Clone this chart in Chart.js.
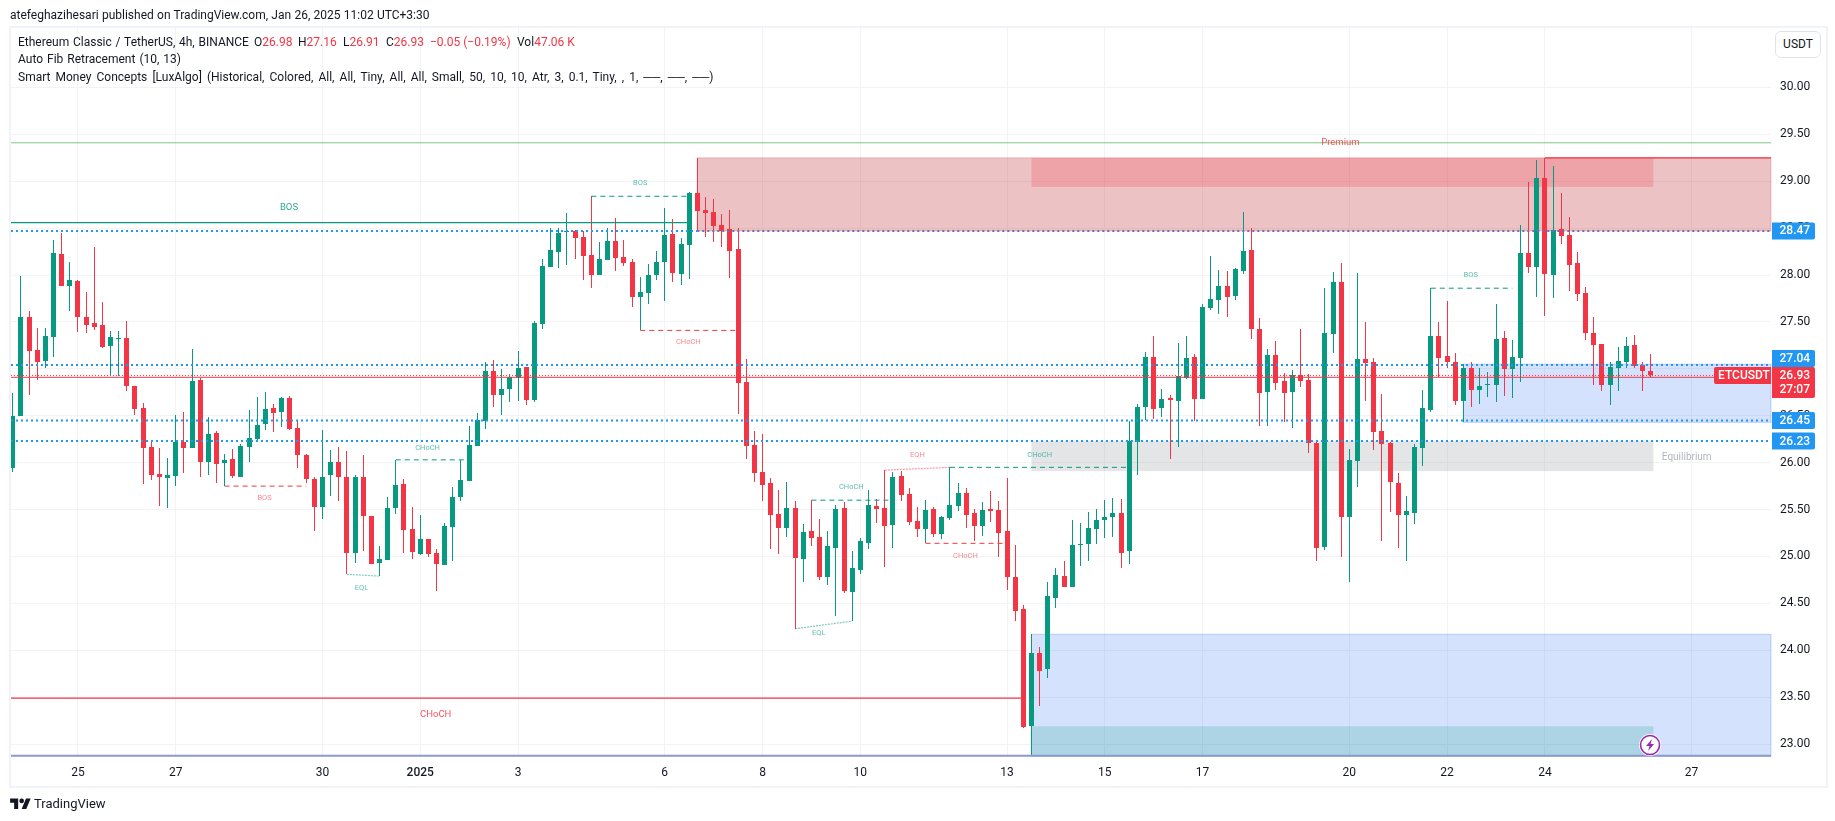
<!DOCTYPE html>
<html>
<head>
<meta charset="utf-8">
<title>ETCUSDT 4h</title>
<script src="https://cdn.jsdelivr.net/npm/chart.js@4"></script>
<style>
  html, body { margin: 0; padding: 0; background: #fff; width: 1835px; height: 821px; overflow: hidden; }
  body { font-family: Roboto, sans-serif; color: #131722; }
  #frame { position: absolute; left: 9px; top: 26px; width: 1815px; height: 758px; border: 2px solid #f0f3fa; }
  #chart { position: absolute; left: 0; top: 0; }
  .txt { position: absolute; white-space: nowrap; font-size: 12px; line-height: 16px; }
  .red { color: #f23645; }
  #usdt { position: absolute; left: 1775px; top: 31px; width: 44px; height: 25px; border: 1px solid #e0e3eb; border-radius: 6px;
          font-size: 12px; line-height: 25px; text-align: center; background: #fff; }
  #logo { position: absolute; left: 10px; top: 798px; }
</style>
</head>
<body>
<div id="frame"></div>
<canvas id="chart" width="1835" height="821"></canvas>
<div class="txt" style="left:10px;top:7px;word-spacing:.3px">atefeghazihesari published on TradingView.com, Jan 26, 2025 11:02 UTC+3:30</div>
<div class="txt" style="left:18px;top:34px;word-spacing:.8px">Ethereum Classic / TetherUS, 4h, BINANCE</div>
<div class="txt" style="left:254px;top:34px">O<span class="red">26.98</span></div>
<div class="txt" style="left:298px;top:34px">H<span class="red">27.16</span></div>
<div class="txt" style="left:343px;top:34px">L<span class="red">26.91</span></div>
<div class="txt" style="left:386px;top:34px">C<span class="red">26.93</span></div>
<div class="txt red" style="left:430px;top:34px">−0.05 (−0.19%)</div>
<div class="txt" style="left:517px;top:34px">Vol<span class="red">47.06 K</span></div>
<div class="txt" style="left:18px;top:51px;word-spacing:1px">Auto Fib Retracement (10, 13)</div>
<div class="txt" style="left:18px;top:69px;word-spacing:2.1px">Smart Money Concepts [LuxAlgo] (Historical, Colored, All, All, Tiny, All, All, Small, 50, 10, 10, Atr, 3, 0.1, Tiny, , 1, ──, ──, ──)</div>
<div id="usdt">USDT</div>
<svg id="logo" width="21" height="11" viewBox="0 0 36 19"><path fill="#131722" d="M14 19H7V8H0V1h14v18zM28 19h-8l7.5-18h8L28 19z"/><circle fill="#131722" cx="20" cy="5" r="4"/></svg>
<div class="txt" style="left:34px;top:795px;font-size:13px;line-height:18px">TradingView</div>

<script>
// candles, 4h bars
var opens = [
  25.94,26.50,27.55,27.20,27.08,27.34,28.22,27.88,27.94,27.55,
  27.49,27.47,27.24,27.32,27.33,26.82,26.58,26.17,25.88,25.84,
  25.86,26.22,26.16,26.88,26.01,26.32,26.00,26.04,25.85,26.17,
  26.25,26.41,26.58,26.54,26.69,26.37,26.08,25.83,25.53,25.87,
  26.01,25.85,25.04,25.85,25.43,24.93,24.96,25.52,25.77,25.29,
  25.03,25.19,25.04,24.91,25.31,25.63,25.80,26.18,26.44,26.98,
  26.72,26.78,26.90,27.02,26.67,27.48,28.09,28.25,28.46,28.47,
  28.41,28.21,28.00,28.16,28.36,28.19,28.14,27.77,27.81,28.00,
  28.14,28.44,28.01,28.32,28.88,28.69,28.67,28.53,28.49,28.28,
  26.86,26.19,25.90,25.78,25.45,25.30,25.52,24.97,25.27,25.21,
  24.78,25.09,25.52,24.62,24.86,25.14,25.54,25.52,25.34,25.86,
  25.67,25.38,25.29,25.51,25.24,25.41,25.54,25.68,25.46,25.33,
  25.51,25.50,25.27,24.78,24.44,23.19,23.97,23.80,24.56,24.79,
  24.67,25.12,25.13,25.29,25.39,25.42,25.46,25.06,26.22,26.59,
  27.13,26.58,26.69,26.66,26.90,27.13,26.68,27.65,27.73,27.88,
  27.78,28.04,28.27,27.43,26.75,27.15,26.87,26.75,26.93,26.88,
  26.21,25.10,27.37,27.93,25.42,26.02,27.11,27.07,26.34,26.21,
  25.78,25.44,25.46,26.16,26.56,27.35,27.14,27.07,26.66,27.01,
  26.77,26.83,26.83,27.33,27.00,27.12,28.23,28.09,29.03,28.00,
  28.49,28.43,28.13,27.81,27.38,27.26,26.83,27.01,27.07,27.25,
  27.04,26.98
];
var highs = [
  26.74,27.99,27.62,27.44,27.44,28.37,28.45,28.14,27.95,27.82,
  28.30,27.71,27.40,27.40,27.51,26.82,26.64,26.24,26.16,26.05,
  26.51,26.54,27.21,26.90,26.49,26.34,26.09,26.15,26.20,26.56,
  26.70,26.75,26.63,26.70,26.71,26.44,26.09,25.85,26.35,26.13,
  26.17,26.12,25.87,26.08,25.43,25.11,25.63,26.03,25.83,25.53,
  25.44,25.19,25.08,25.36,25.74,26.03,26.39,26.53,27.07,27.09,
  27.00,26.95,27.19,27.02,27.51,28.17,28.50,28.50,28.66,28.48,
  28.47,28.84,28.35,28.50,28.61,28.37,28.17,27.98,28.12,28.26,
  28.71,28.60,28.40,28.89,29.25,28.83,28.81,28.65,28.69,28.50,
  27.11,26.34,26.31,25.84,25.71,25.79,25.59,25.35,25.60,25.40,
  25.27,25.55,25.58,25.06,25.20,25.71,25.61,25.92,25.90,25.91,
  25.73,25.53,25.60,25.53,25.43,25.95,25.78,25.73,25.51,25.58,
  25.70,25.59,25.84,25.12,24.48,24.17,24.04,24.73,24.88,24.95,
  25.39,25.36,25.47,25.51,25.60,25.62,25.61,26.44,26.63,27.18,
  27.35,26.79,26.72,27.28,27.35,27.16,27.69,28.20,28.05,28.04,
  28.07,28.67,28.50,27.54,27.21,27.30,26.96,26.99,27.42,26.95,
  26.22,27.86,28.03,28.13,26.15,28.02,27.50,27.12,26.73,26.22,
  25.89,25.64,26.20,26.77,27.86,27.50,27.72,27.17,27.05,27.07,
  27.01,26.97,27.69,27.40,27.31,28.53,28.99,29.23,29.25,29.16,
  28.88,28.62,28.25,27.87,27.55,27.26,27.07,27.23,27.34,27.36,
  27.07,27.16
];
var lows = [
  25.90,26.50,26.72,26.88,27.01,27.13,27.88,27.62,27.39,27.38,
  27.41,27.22,26.92,26.92,26.76,26.51,25.77,25.81,25.54,25.52,
  25.75,25.89,26.16,25.85,25.87,25.78,25.75,25.84,25.85,26.01,
  26.23,26.35,26.33,26.38,26.35,25.94,25.78,25.27,25.40,25.64,
  25.59,24.81,24.93,25.06,24.92,24.79,24.96,25.45,25.04,24.97,
  25.02,24.99,24.63,24.91,24.95,25.59,25.80,26.18,26.36,26.59,
  26.51,26.65,26.66,26.62,26.65,27.43,28.09,28.07,28.11,28.17,
  27.95,27.86,28.00,28.16,28.04,28.10,27.66,27.41,27.69,27.95,
  27.72,27.93,27.89,27.96,28.48,28.41,28.35,28.30,27.97,26.52,
  26.04,25.79,25.59,25.08,25.03,25.21,24.23,24.73,25.11,24.75,
  24.70,24.36,24.61,24.31,24.81,25.08,25.36,24.89,25.09,25.59,
  25.34,25.21,25.14,25.21,25.19,25.39,25.48,25.30,25.16,25.22,
  25.37,24.99,24.64,24.31,23.17,22.87,23.41,23.70,24.45,24.67,
  24.67,24.90,24.95,25.13,25.20,25.21,24.88,24.92,25.87,26.45,
  26.47,26.49,26.04,26.17,26.89,26.44,26.68,27.63,27.58,27.55,
  27.73,28.01,27.32,26.39,26.39,26.77,26.43,26.37,26.81,26.10,
  24.95,25.07,27.17,24.99,24.73,25.74,26.66,26.13,25.16,25.47,
  25.09,24.95,25.35,25.96,26.54,26.91,27.01,26.62,26.43,26.59,
  26.63,26.70,26.65,26.71,26.69,26.86,28.02,27.77,27.56,27.76,
  28.33,27.83,27.72,27.31,26.83,26.76,26.62,26.76,27.01,27.01,
  26.76,26.91
];
var closes = [
  26.50,27.55,27.19,27.07,27.35,28.24,27.88,27.95,27.55,27.47,
  27.45,27.23,27.34,27.33,26.82,26.57,26.16,25.87,25.85,25.87,
  26.22,26.16,26.87,26.01,26.31,25.99,26.03,25.86,26.18,26.26,
  26.40,26.57,26.53,26.69,26.36,26.08,25.83,25.53,25.85,26.01,
  25.85,25.04,25.85,25.43,24.92,24.97,25.52,25.76,25.28,25.05,
  25.19,25.03,24.92,25.32,25.63,25.81,26.19,26.46,26.98,26.72,
  26.78,26.91,27.01,26.67,27.49,28.10,28.27,28.45,28.47,28.40,
  28.20,28.00,28.17,28.36,28.18,28.13,27.77,27.82,28.00,28.14,
  28.43,28.02,28.33,28.87,28.68,28.66,28.52,28.47,28.26,26.85,
  26.18,25.89,25.76,25.44,25.30,25.52,24.98,25.26,25.20,24.78,
  25.11,25.51,24.63,24.88,25.17,25.55,25.51,25.33,25.85,25.66,
  25.37,25.29,25.50,25.24,25.42,25.55,25.68,25.44,25.32,25.50,
  25.48,25.25,24.78,24.42,23.18,23.97,23.78,24.58,24.80,24.67,
  25.12,25.13,25.30,25.39,25.42,25.46,25.04,26.23,26.59,27.13,
  26.57,26.68,26.67,26.92,27.12,26.68,27.66,27.74,27.88,27.77,
  28.06,28.26,27.42,26.74,27.15,26.85,26.74,26.93,26.87,26.21,
  25.09,27.38,27.93,25.42,26.03,27.10,27.06,26.33,26.20,25.79,
  25.44,25.48,26.17,26.58,27.35,27.12,27.07,26.66,27.01,26.77,
  26.82,26.84,27.32,27.00,27.13,28.24,28.09,29.03,28.01,28.48,
  28.42,28.11,27.80,27.38,27.25,26.83,27.02,27.08,27.24,27.03,
  26.98,26.93
];

// axes
var dayTicks = [8, 20, 38, 50, 62, 80, 92, 104, 122, 134, 146, 164, 176, 188, 206];
var dayLabels = ["25", "27", "30", "2025", "3", "6", "8", "10", "13", "15", "17", "20", "22", "24", "27"];
var priceTicks = [23, 23.5, 24, 24.5, 25, 25.5, 26, 26.5, 27, 27.5, 28, 28.5, 29, 29.5, 30];
var slotMin = -0.21, slotMax = 215.74, priceMin = 22.862, priceMax = 30.634;

// zones: from bar, to bar, low price, high price
var premiumZone = [84, slotMax, 28.47, 29.25];
var premiumCore = [125, 201.3, 28.94, 29.25];
var discountZone = [125, slotMax, 22.87, 24.17];
var discountCore = [125, 201.3, 22.87, 23.19];
var demandZone = [178, slotMax, 26.43, 27.05];
var equilibriumZone = [125, 201.3, 25.91, 26.23];

// levels and structure lines: style, from bar, price, to bar, price
var structure = [
  ["premium", slotMin, 29.41, slotMax, 29.41],
  ["bosLine", slotMin, 28.56, 83, 28.56],
  ["chochLine", slotMin, 23.49, 124, 23.49],
  ["chochLine", 188, 29.25, slotMax, 29.25],
  ["bottom", slotMin, 22.875, slotMax, 22.875],
  ["level", slotMin, 28.47, 84, 28.47],
  ["levelZone", 84, 28.47, slotMax, 28.47],
  ["level", slotMin, 27.04, slotMax, 27.04],
  ["level", slotMin, 26.45, slotMax, 26.45],
  ["level", slotMin, 26.23, slotMax, 26.23],
  ["lastSolid", slotMin, 26.91, slotMax, 26.91],
  ["lastDots", slotMin, 26.93, slotMax, 26.93],
  ["dashGreen", 71, 28.84, 83, 28.84],
  ["dashRed", 77, 27.41, 89, 27.41],
  ["dashRed", 26, 25.75, 36, 25.75],
  ["dashGreen", 47, 26.03, 56, 26.03],
  ["dashGreen", 98, 25.60, 108, 25.60],
  ["dashRed", 112, 25.14, 122, 25.14],
  ["dashGreen", 115, 25.95, 137, 25.95],
  ["dashGreen", 174, 27.86, 184, 27.86],
  ["dotGreen", 41, 24.81, 45, 24.79],
  ["dotGreen", 96, 24.23, 103, 24.31],
  ["dotRed", 107, 25.92, 115, 25.95]
];

// little texts on the chart: text, bar, price, style
var notes = [
  ["Premium", 162.9, 29.41, "redBig"],
  ["BOS", 33.9, 28.72, "greenBig"],
  ["CHoCH", 51.9, 23.31, "redBig"],
  ["BOS", 30.9, 25.62, "redSmall"],
  ["CHoCH", 50.9, 26.16, "greenSmall"],
  ["EQL", 42.8, 24.66, "greenSmall"],
  ["BOS", 77, 28.98, "greenSmall"],
  ["CHoCH", 82.9, 27.28, "redSmall"],
  ["CHoCH", 102.9, 25.74, "greenSmall"],
  ["EQL", 98.9, 24.18, "greenSmall"],
  ["EQH", 111, 26.08, "redSmall"],
  ["CHoCH", 116.9, 25.00, "redSmall"],
  ["CHoCH", 126, 26.08, "greenSmall"],
  ["BOS", 178.9, 28.00, "greenSmall"],
  ["Equilibrium", 205.4, 26.06, "grey"]
];

// price scale tags
var levelTags = [28.47, 27.04, 26.45, 26.23];
var lastPrice = 26.93;
var symbol = "ETCUSDT";
var countdown = "27:07";
var flashBar = 200.9, flashPrice = 22.99;

var GREEN = "#089981", RED = "#f23645", BLUE = "#2196f3";

var lineStyles = {
  premium: { color: "#81c784", width: 1 },
  bosLine: { color: GREEN, width: 1.3 },
  chochLine: { color: RED, width: 1.3 },
  bottom: { color: "#8b9bc9", width: 2 },
  level: { color: BLUE, width: 2, dash: [2, 3] },
  levelZone: { color: "#6c72ad", width: 2, dash: [2, 3] },
  lastSolid: { color: RED, width: 1 },
  lastDots: { color: RED, width: 1, dash: [1, 2] },
  dashGreen: { color: GREEN, width: 1, dash: [5, 4] },
  dashRed: { color: RED, width: 1, dash: [5, 4] },
  dotGreen: { color: "rgba(8,153,129,.5)", width: 1.2, dash: [2, 1] },
  dotRed: { color: "rgba(242,54,69,.5)", width: 1.2, dash: [2, 1] }
};
var noteStyles = {
  redBig: { color: "rgba(242,54,69,.85)", font: "9.5px Roboto" },
  greenBig: { color: "rgba(8,153,129,.85)", font: "9.5px Roboto" },
  redSmall: { color: "rgba(242,54,69,.6)", font: "7.5px Roboto" },
  greenSmall: { color: "rgba(8,153,129,.65)", font: "7.5px Roboto" },
  grey: { color: "#b2b5be", font: "10px Roboto" }
};
// fill, optional edge
var zoneLayers = [
  [premiumZone, "rgba(196,52,64,.3)", "rgba(196,52,64,.25)"],
  [premiumCore, "rgba(242,54,69,.22)"],
  [discountZone, "rgba(33,100,243,.19)", "rgba(33,100,243,.25)"],
  [discountCore, "rgba(8,153,129,.2)"],
  [demandZone, "rgba(33,100,243,.19)", "rgba(33,100,243,.25)"],
  [equilibriumZone, "rgba(120,123,134,.2)"]
];

var lineSets = structure.map(function(s) {
  var st = lineStyles[s[0]];
  return {
    type: "line",
    data: [{ x: s[1], y: s[2] }, { x: s[3], y: s[4] }],
    borderColor: st.color,
    borderWidth: st.width,
    borderDash: st.dash || [],
    pointRadius: 0,
    fill: false,
    tension: 0
  };
});

var wickData = opens.map(function(o, i) { return { x: i, y: [lows[i], highs[i]] }; });
var bodyData = opens.map(function(o, i) { return { x: i, y: [o, closes[i]] }; });
var barColors = opens.map(function(o, i) { return closes[i] >= o ? GREEN : RED; });

// zones go under the candles, candles get snapped to whole pixels like the original
var overlay = {
  id: "overlay",
  beforeDatasetsDraw: function(chart) {
    var x = chart.scales.x, y = chart.scales.y, ctx = chart.ctx;
    ctx.save();
    zoneLayers.forEach(function(z) {
      var b = z[0];
      var left = x.getPixelForValue(b[0]), right = x.getPixelForValue(b[1]);
      var top = y.getPixelForValue(b[3]), bottom = y.getPixelForValue(b[2]);
      ctx.fillStyle = z[1];
      ctx.fillRect(left, top, right - left, bottom - top);
      if (z[2]) {
        ctx.strokeStyle = z[2];
        ctx.lineWidth = 1;
        ctx.strokeRect(left, top, right - left, bottom - top);
      }
    });
    ctx.restore();

    chart.getSortedVisibleDatasetMetas().forEach(function(meta) {
      if (meta.type !== "bar") return;
      meta.data.forEach(function(el, i) {
        // two bar sets would sit side by side, put them on the same centre
        el.x = Math.round(x.getPixelForValue(i) - 0.5) + 0.5;
        el.y = Math.round(el.y);
        el.base = Math.round(el.base);
        if (el.y === el.base) el.base = el.y + 1;
      });
    });
  },
  afterDatasetsDraw: function(chart) {
    var x = chart.scales.x, y = chart.scales.y, ctx = chart.ctx;
    ctx.save();
    ctx.textAlign = "center";
    ctx.textBaseline = "middle";
    notes.forEach(function(n) {
      var st = noteStyles[n[3]];
      ctx.font = st.font;
      ctx.fillStyle = st.color;
      ctx.fillText(n[0], x.getPixelForValue(n[1]), y.getPixelForValue(n[2]));
    });

    // flash marker
    var fx = x.getPixelForValue(flashBar), fy = y.getPixelForValue(flashPrice);
    ctx.beginPath();
    ctx.arc(fx, fy, 11, 0, Math.PI * 2);
    ctx.fillStyle = "#fff";
    ctx.fill();
    ctx.beginPath();
    ctx.arc(fx, fy, 9.5, 0, Math.PI * 2);
    ctx.strokeStyle = "#9c27b0";
    ctx.lineWidth = 1.6;
    ctx.stroke();
    ctx.beginPath();
    ctx.moveTo(fx + 2, fy - 6);
    ctx.lineTo(fx - 4, fy + 1);
    ctx.lineTo(fx - 0.5, fy + 1);
    ctx.lineTo(fx - 2, fy + 6);
    ctx.lineTo(fx + 4, fy - 1);
    ctx.lineTo(fx + 0.5, fy - 1);
    ctx.closePath();
    ctx.fillStyle = "#9c27b0";
    ctx.fill();
    ctx.restore();
  },
  afterDraw: function(chart) {
    var y = chart.scales.y, ctx = chart.ctx, edge = chart.chartArea.right + 1;
    var ly = y.getPixelForValue(lastPrice);
    ctx.save();
    ctx.font = "500 12px Roboto";
    ctx.textAlign = "left";
    ctx.textBaseline = "middle";
    levelTags.forEach(function(p) {
      var py = y.getPixelForValue(p);
      // a tag just above the last price gets pushed up, same as tradingview does
      if (py < ly && py > ly - 17) py = ly - 17;
      ctx.fillStyle = BLUE;
      ctx.beginPath();
      ctx.roundRect(edge, py - 8.5, 43, 17, [0, 2, 2, 0]);
      ctx.fill();
      ctx.fillStyle = "#fff";
      ctx.fillText(p.toFixed(2), edge + 7.5, py + 0.5);
    });
    ctx.fillStyle = RED;
    ctx.beginPath();
    ctx.roundRect(edge, ly - 8.5, 43, 31, [0, 2, 2, 0]);
    ctx.fill();
    ctx.beginPath();
    ctx.roundRect(edge - 58, ly - 8.5, 57, 17, [2, 0, 0, 2]);
    ctx.fill();
    ctx.fillStyle = "#fff";
    ctx.fillText(lastPrice.toFixed(2), edge + 7.5, ly + 0.5);
    ctx.fillText(countdown, edge + 7.5, ly + 14.5);
    ctx.fillText(symbol, edge - 54, ly + 0.5);
    ctx.restore();
  }
};

new Chart(document.getElementById("chart"), {
  type: "bar",
  plugins: [overlay],
  data: {
    datasets: lineSets.concat([
      { data: bodyData, backgroundColor: barColors, barThickness: 5, borderWidth: 0, inflateAmount: 0 },
      { data: wickData, backgroundColor: barColors, barThickness: 1, borderWidth: 0, inflateAmount: 0 }
    ])
  },
  options: {
    responsive: false,
    animation: false,
    layout: { padding: { left: 11, top: 28, right: 0, bottom: 0 } },
    plugins: { legend: { display: false }, tooltip: { enabled: false }, title: { display: false } },
    scales: {
      x: {
        type: "linear",
        offset: false,
        min: slotMin,
        max: slotMax,
        grid: { color: "#f2f3f5", offset: false, drawTicks: false },
        border: { display: false },
        afterBuildTicks: function(axis) { axis.ticks = dayTicks.map(function(v) { return { value: v }; }); },
        afterFit: function(axis) { axis.height = 64; },
        ticks: {
          autoSkip: false,
          maxRotation: 0,
          padding: 9,
          color: "#131722",
          font: function(ctx) { return { family: "Roboto", size: 12, weight: ctx.tick && ctx.tick.value === 50 ? "500" : "400" }; },
          callback: function(v) { return dayLabels[dayTicks.indexOf(v)]; }
        }
      },
      y: {
        position: "right",
        min: priceMin,
        max: priceMax,
        grid: { color: "#f2f3f5", drawTicks: false },
        border: { display: false },
        afterBuildTicks: function(axis) { axis.ticks = priceTicks.map(function(v) { return { value: v }; }); },
        afterFit: function(axis) { axis.width = 64; },
        ticks: {
          padding: 9,
          color: "#131722",
          font: { family: "Roboto", size: 12 },
          callback: function(v) { return v.toFixed(2); }
        }
      }
    }
  }
});
</script>
</body>
</html>
